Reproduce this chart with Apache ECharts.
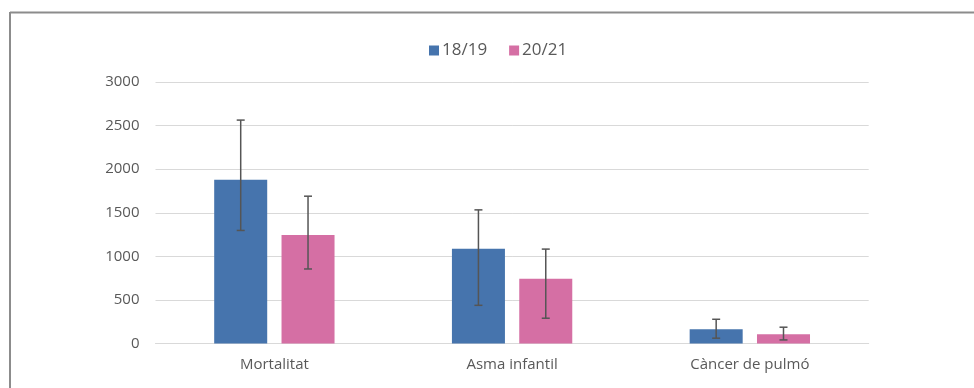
<!DOCTYPE html>
<html><head><meta charset="utf-8">
<script src="https://cdn.jsdelivr.net/npm/echarts@6/dist/echarts.min.js"></script>
<style>html,body{margin:0;padding:0;background:#fff}#c{width:974px;height:388px}</style>
</head><body><div id="c"></div>
<script>
const categories = ['Mortalitat', 'Asma infantil', 'Càncer de pulmó'];
const seriesNames = ['18/19', '20/21'];
const values1819 = [1880, 1087, 164];
const values2021 = [1244, 744, 106];
const low1819 = [1297, 438, 61];
const high1819 = [2563, 1533, 278];
const low2021 = [855, 290, 41];
const high2021 = [1690, 1083, 187];
const yTicks = [0, 500, 1000, 1500, 2000, 2500, 3000];

const BAR_PCT = 0.223, GAP_PCT = 0.27;
const colors = ['#4674AD', '#D56FA4'];

function errSeries(low, high, idx) {
  return {
    type: 'custom',
    name: seriesNames[idx] + ' err',
    data: categories.map((c, i) => [i, low[i], high[i]]),
    z: 10,
    silent: true,
    renderItem: function (params, api) {
      const band = api.size([1, 0])[0];
      const bw = band * BAR_PCT;
      const off = (bw + bw * GAP_PCT) / 2 * (idx === 0 ? -1 : 1);
      const pLow = api.coord([api.value(0), api.value(1)]);
      const pHigh = api.coord([api.value(0), api.value(2)]);
      const x = pLow[0] + off;
      const cap = 4;
      const style = { stroke: '#555', lineWidth: 1.5 };
      return {
        type: 'group',
        children: [
          { type: 'line', shape: { x1: x, y1: pLow[1], x2: x, y2: pHigh[1] }, style },
          { type: 'line', shape: { x1: x - cap, y1: pLow[1], x2: x + cap, y2: pLow[1] }, style },
          { type: 'line', shape: { x1: x - cap, y1: pHigh[1], x2: x + cap, y2: pHigh[1] }, style }
        ]
      };
    }
  };
}

const chart = echarts.init(document.getElementById('c'), null, { renderer: 'canvas' });
chart.setOption({
  animation: false,
  backgroundColor: '#fff',
  textStyle: { fontFamily: 'Open Sans' },
  graphic: [
    { type: 'line', shape: { x1: 10, y1: 12.5, x2: 974, y2: 12.5 }, style: { stroke: '#8c8c8c', lineWidth: 2 } },
    { type: 'line', shape: { x1: 10, y1: 12, x2: 10, y2: 388 }, style: { stroke: '#8c8c8c', lineWidth: 2 } }
  ],
  legend: {
    data: seriesNames,
    top: 37,
    left: 424,
    itemWidth: 10,
    itemHeight: 10,
    itemGap: 22,
    icon: 'rect',
    textStyle: { fontSize: 17, color: '#595959', fontFamily: 'Open Sans', padding: [0, 0, 0, -2] }
  },
  grid: { left: 155.5, right: 105.3, top: 82, bottom: 44.5, containLabel: false },
  xAxis: {
    type: 'category',
    data: categories,
    axisTick: { show: false },
    axisLine: { lineStyle: { color: '#d9d9d9', width: 1 } },
    axisLabel: { fontSize: 15, color: '#595959', margin: 14, fontFamily: 'Open Sans' }
  },
  yAxis: {
    type: 'value',
    min: yTicks[0],
    max: yTicks[yTicks.length - 1],
    interval: 500,
    axisLine: { show: false },
    axisTick: { show: false },
    splitLine: { lineStyle: { color: '#d9d9d9', width: 1 } },
    axisLabel: { fontSize: 15, color: '#595959', margin: 16, fontFamily: 'Open Sans', formatter: v => String(v) }
  },
  series: [
    { type: 'bar', name: seriesNames[0], data: values1819, barWidth: (BAR_PCT * 100) + '%', barGap: (GAP_PCT * 100) + '%', itemStyle: { color: colors[0] } },
    { type: 'bar', name: seriesNames[1], data: values2021, barWidth: (BAR_PCT * 100) + '%', barGap: (GAP_PCT * 100) + '%', itemStyle: { color: colors[1] } },
    errSeries(low1819, high1819, 0),
    errSeries(low2021, high2021, 1)
  ]
});
</script></body></html>
